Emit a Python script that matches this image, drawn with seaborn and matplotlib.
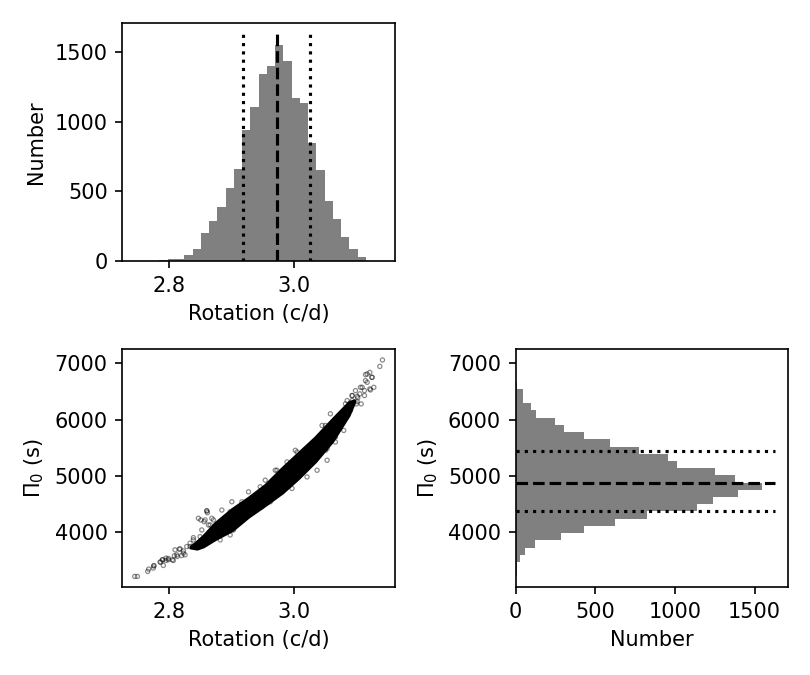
#!/usr/bin/env python3
import matplotlib
matplotlib.use('Agg')
import matplotlib.pyplot as plt
import seaborn as sns
import numpy as np
import pandas as pd

# Histogram of rotation frequency (30 bins over the sample range)
rot_range = (2.7457, 3.1412)
rot_counts = [2, 0, 2, 4, 12, 12, 41, 84, 201, 285,
              386, 523, 659, 942, 1106, 1343, 1400, 1552, 1436, 1170,
              1134, 847, 652, 429, 300, 173, 84, 29, 0, 0]
rot_median = 2.9723
rot_quantiles = [2.9179, 3.0251]

# Histogram of Pi0 (30 bins over the sample range)
pi0_range = (3201, 7062)
pi0_counts = [8, 12, 25, 56, 119, 288, 431, 625, 825, 1138,
              1238, 1394, 1544, 1375, 1250, 1013, 956, 775, 594, 431,
              306, 250, 131, 98, 46, 46, 12, 3, 1, 2]
pi0_median = 4873
pi0_quantiles = [4368, 5432]

# Dense core of the rotation / Pi0 sample cloud (lower and upper edge)
band_x = [2.835, 2.845, 2.855, 2.874, 2.901, 2.927, 2.954, 2.981,
          3.007, 3.034, 3.061, 3.087, 3.096]
band_lo = [3720, 3700, 3740, 3870, 4030, 4270, 4480, 4700,
           4960, 5260, 5620, 6080, 6320]
band_hi = [3730, 3820, 3920, 4150, 4400, 4600, 4830, 5130,
           5400, 5680, 6000, 6300, 6340]

# Loose samples around the core and in the tails
pts_rot = [2.7457, 2.7500, 2.7664, 2.7680, 2.7754, 2.7765, 2.7760, 2.7861,
           2.7872, 2.7898, 2.7904, 2.7914, 2.7957, 2.7957, 2.7994, 2.7994,
           2.8058, 2.8074, 2.8090, 2.8101, 2.8128, 2.8138, 2.8170, 2.8181,
           2.8208, 2.8234, 2.8234, 2.8261, 2.8288, 2.8341, 2.8341, 2.8394,
           2.8394, 2.8501, 2.8474, 2.8512, 2.8528, 2.8565, 2.8581, 2.8608,
           2.8608, 2.8618, 2.8634, 2.8661, 2.8688, 2.8714, 2.8821, 2.8981,
           2.9034, 2.8981, 2.9008, 2.9141, 2.9168, 2.9248, 2.9461, 2.9461,
           2.9621, 2.9728, 2.9888, 3.0048, 3.0208, 3.0368, 3.0421, 3.0501,
           3.0501, 3.0528, 3.0528, 3.0581, 3.0661, 3.0688, 3.0821, 3.0848,
           3.0858, 3.0901, 3.0901, 3.0928, 3.0928, 3.0981, 3.0997, 3.1008,
           3.1008, 3.1018, 3.1050, 3.1061, 3.1072, 3.1088, 3.1125, 3.1125,
           3.1141, 3.1141, 3.1168, 3.1168, 3.1210, 3.1210, 3.1221, 3.1242,
           3.1248, 3.1274, 3.1370, 3.1412,
           2.9701, 3.0021, 3.0448, 2.9488, 2.9968, 3.0181, 3.0501, 3.0794,
           3.0661, 2.9541, 2.9274, 2.9008, 2.8848, 3.0821, 3.0928]
pts_pi0 = [3201, 3201, 3290, 3332, 3350, 3391, 3391, 3457,
           3457, 3498, 3498, 3397, 3527, 3486, 3498, 3521,
           3498, 3486, 3569, 3675, 3586, 3557, 3687, 3693,
           3574, 3657, 3616, 3586, 3734, 3793, 3734, 3893,
           3853, 3911, 4238, 4208, 4030, 4178, 4208, 4373,
           4367, 4337, 4119, 4119, 4238, 4208, 3853, 3941,
           4030, 4355, 4089, 4266, 4533, 4266, 4444, 4799,
           4533, 5095, 5243, 5420, 4976, 5095, 5717, 5894,
           5450, 5273, 5481, 6102, 5598, 5924, 6130, 6338,
           6219, 6297, 6161, 6427, 6427, 6516, 6279, 6414,
           6320, 6386, 6457, 6574, 6279, 6574, 6516, 6427,
           6693, 6800, 6812, 6663, 6546, 6840, 6528, 6752,
           6752, 6574, 6947, 7062,
           5095, 5450, 5894, 4444, 4770, 5154, 5509, 5805,
           5687, 4918, 4710, 4533, 4385, 6279, 6338]

BAR_GREY = '#808080'


def hist_frame(counts, value_range):
    # one row per bin: centre and weight
    edges = np.linspace(value_range[0], value_range[1], len(counts) + 1)
    return pd.DataFrame({
        'centre': 0.5 * (edges[:-1] + edges[1:]),
        'count': counts,
    })


def main():
    plt.rcParams['font.family'] = ['DejaVu Sans']
    plt.rcParams['font.size'] = 10

    fig, axes = plt.subplots(2, 2, figsize=(5.4, 4.5), dpi=150)
    fig.subplots_adjust(left=0.151, right=0.973, bottom=0.130, top=0.966,
                        wspace=0.443, hspace=0.37)
    ax_top, ax_blank = axes[0]
    ax_sc, ax_right = axes[1]
    ax_blank.axis('off')

    line_top = 1.05 * max(rot_counts)

    # Scatter: dense core + loose samples
    ax_sc.fill_between(band_x, band_lo, band_hi, facecolor='k',
                       edgecolor='k', lw=1.6)
    sns.scatterplot(x=pts_rot, y=pts_pi0, ax=ax_sc, marker='o', s=4,
                    facecolors='none', edgecolor='k', linewidth=0.6,
                    alpha=0.45)
    ax_sc.set_xlabel('Rotation (c/d)')
    ax_sc.set_ylabel(r'$\Pi_0$ (s)')
    ax_sc.set_xticks([2.8, 3.0])
    ax_sc.set_yticks([4000, 5000, 6000, 7000])

    # Rotation histogram
    rot_df = hist_frame(rot_counts, rot_range)
    sns.histplot(data=rot_df, x='centre', weights='count',
                 bins=len(rot_counts), binrange=rot_range,
                 color=BAR_GREY, alpha=1, linewidth=0, ax=ax_top)
    ax_top.vlines(rot_median, 0, line_top, colors='k', linestyles='--', lw=1.5)
    ax_top.vlines(rot_quantiles, 0, line_top, colors='k', linestyles=':', lw=1.5)
    ax_top.set_xlim(ax_sc.get_xlim())
    ax_top.set_xticks([2.8, 3.0])
    ax_top.set_yticks([0, 500, 1000, 1500])
    ax_top.set_xlabel('Rotation (c/d)')
    ax_top.set_ylabel('Number')

    # Pi0 histogram, horizontal
    pi0_df = hist_frame(pi0_counts, pi0_range)
    sns.histplot(data=pi0_df, y='centre', weights='count',
                 bins=len(pi0_counts), binrange=pi0_range,
                 color=BAR_GREY, alpha=1, linewidth=0, ax=ax_right)
    ax_right.hlines(pi0_median, 0, line_top, colors='k', linestyles='--', lw=1.5)
    ax_right.hlines(pi0_quantiles, 0, line_top, colors='k', linestyles=':', lw=1.5)
    ax_right.set_ylim(ax_sc.get_ylim())
    ax_right.set_xticks([0, 500, 1000, 1500])
    ax_right.set_yticks([4000, 5000, 6000, 7000])
    ax_right.set_xlabel('Number')
    ax_right.set_ylabel(r'$\Pi_0$ (s)')

    fig.savefig('out.png', dpi=150)


if __name__ == '__main__':
    main()
